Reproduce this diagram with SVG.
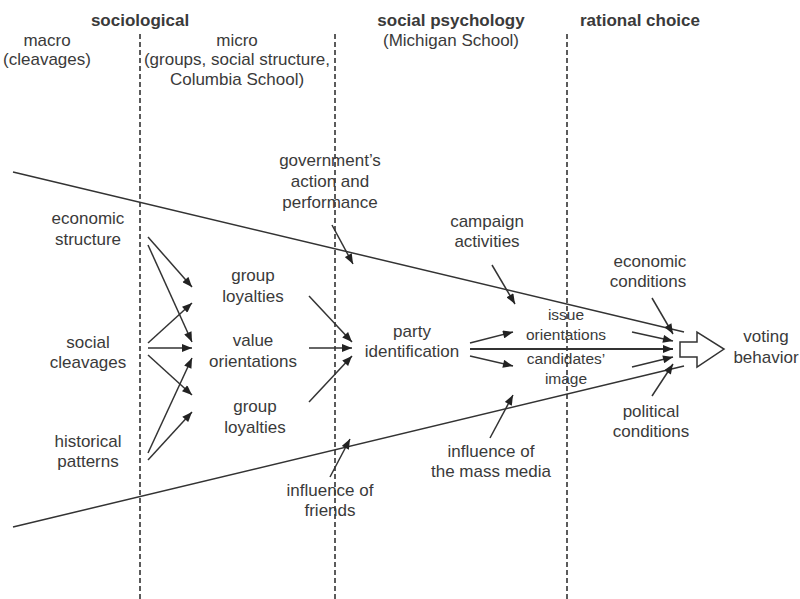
<svg xmlns="http://www.w3.org/2000/svg" width="800" height="599" viewBox="0 0 800 599">
<defs>
<style>
text{font-family:"Liberation Sans",Arial,sans-serif;font-size:17px;fill:#3a3a3a;text-anchor:middle}
.b{font-weight:bold}
.s{font-size:15.5px}
.dash{stroke:#333;stroke-width:1.6;stroke-dasharray:5,3;fill:none}
.ln{stroke:#333;stroke-width:1.5;fill:none}
.ar{stroke:#333;stroke-width:1.5;fill:none;marker-end:url(#ah)}
</style>
<marker id="ah" viewBox="0 0 10 8" refX="10" refY="4" markerWidth="11" markerHeight="8" markerUnits="userSpaceOnUse" orient="auto">
<path d="M0,0 L10,4 L0,8 Z" fill="#222"/>
</marker>
</defs>
<rect width="800" height="599" fill="#fff"/>

<g id="headers">
<text class="b" x="140" y="26">sociological</text>
<text x="47" y="46">macro</text>
<text x="47" y="65">(cleavages)</text>
<text x="237" y="46">micro</text>
<text x="237" y="65">(groups, social structure,</text>
<text x="237" y="85">Columbia School)</text>
<text class="b" x="451" y="26">social psychology</text>
<text x="451" y="46">(Michigan School)</text>
<text class="b" x="640" y="26">rational choice</text>
</g>

<g id="dividers">
<line class="dash" x1="140" y1="34" x2="140" y2="599"/>
<line class="dash" x1="335" y1="34" x2="335" y2="599"/>
<line class="dash" x1="567" y1="34" x2="567" y2="599"/>
</g>

<g id="connectors">
<line class="ln" x1="13" y1="172" x2="684" y2="332"/>
<line class="ln" x1="13" y1="527" x2="684" y2="366"/>
<line class="ar" x1="148" y1="237" x2="192" y2="287"/>
<line class="ar" x1="148" y1="245" x2="192" y2="342"/>
<line class="ar" x1="148" y1="343" x2="192" y2="303"/>
<line class="ar" x1="148" y1="348" x2="192" y2="348"/>
<line class="ar" x1="148" y1="355" x2="192" y2="395"/>
<line class="ar" x1="148" y1="453" x2="192" y2="358"/>
<line class="ar" x1="148" y1="460" x2="192" y2="412"/>
<line class="ar" x1="309" y1="296" x2="352" y2="342"/>
<line class="ar" x1="309" y1="348" x2="352" y2="348"/>
<line class="ar" x1="309" y1="402" x2="352" y2="356"/>
<line class="ar" x1="332" y1="225" x2="353" y2="264"/>
<line class="ar" x1="330" y1="477" x2="350" y2="439"/>
<line class="ar" x1="492" y1="265" x2="515" y2="304"/>
<line class="ar" x1="490" y1="438" x2="513" y2="395"/>
<line class="ar" x1="470" y1="343" x2="513" y2="332"/>
<line class="ar" x1="470" y1="356" x2="513" y2="366"/>
<line class="ar" x1="470" y1="349" x2="673" y2="349" style="stroke-width:2"/>
<line class="ar" x1="652" y1="298" x2="673" y2="334"/>
<line class="ar" x1="632" y1="332" x2="673" y2="341"/>
<line class="ar" x1="632" y1="367" x2="673" y2="357"/>
<line class="ar" x1="652" y1="396" x2="673" y2="364"/>
<polygon points="680,342 697,342 697,332 724,349 697,367 697,357 680,357" fill="#fff" stroke="#333" stroke-width="1.5"/>
</g>

<g id="economic-structure"><text x="88" y="224">economic</text><text x="88" y="245">structure</text></g>
<g id="social-cleavages"><text x="88" y="348">social</text><text x="88" y="368">cleavages</text></g>
<g id="historical-patterns"><text x="88" y="447">historical</text><text x="88" y="467">patterns</text></g>
<g id="group-loyalties-1"><text x="253" y="281">group</text><text x="253" y="302">loyalties</text></g>
<g id="value-orientations"><text x="253" y="346">value</text><text x="253" y="367">orientations</text></g>
<g id="group-loyalties-2"><text x="255" y="412">group</text><text x="255" y="433">loyalties</text></g>
<g id="government"><text x="330" y="166">government’s</text><text x="330" y="187">action and</text><text x="330" y="208">performance</text></g>
<g id="friends"><text x="330" y="496">influence of</text><text x="330" y="516">friends</text></g>
<g id="party-identification"><text x="412" y="337">party</text><text x="412" y="357">identification</text></g>
<g id="campaign"><text x="487" y="227">campaign</text><text x="487" y="247">activities</text></g>
<g id="mass-media"><text x="491" y="457">influence of</text><text x="491" y="477">the mass media</text></g>
<g id="issue-orientations"><text class="s" x="566" y="320">issue</text><text class="s" x="566" y="340">orientations</text></g>
<g id="candidates-image"><text class="s" x="566" y="364">candidates’</text><text class="s" x="566" y="384">image</text></g>
<g id="economic-conditions"><text x="650" y="267">economic</text><text x="648" y="287">conditions</text></g>
<g id="political-conditions"><text x="651" y="417">political</text><text x="651" y="437">conditions</text></g>
<g id="voting-behavior"><text x="766" y="342">voting</text><text x="766" y="363">behavior</text></g>
</svg>
